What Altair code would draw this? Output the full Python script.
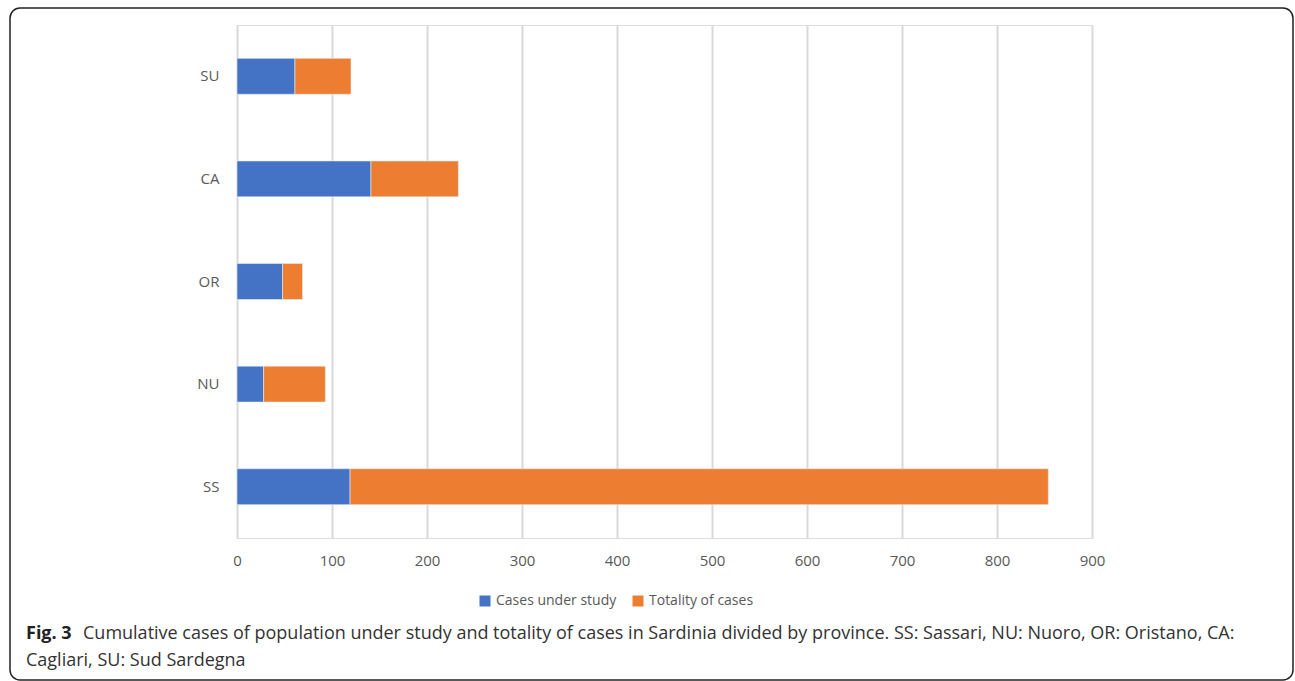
import altair as alt
import pandas as pd

provinces = ["SU", "CA", "OR", "NU", "SS"]
cases_under_study = [61, 141, 48, 28, 119]
totality_extra = [59, 92, 21, 65, 735]
series_names = ["Cases under study", "Totality of cases"]
x_ticks = [0, 100, 200, 300, 400, 500, 600, 700, 800, 900]

rows = []
for p, a, b in zip(provinces, cases_under_study, totality_extra):
    rows.append({"province": p, "series": series_names[0], "value": a, "ord": 0})
    rows.append({"province": p, "series": series_names[1], "value": b, "ord": 1})
df = pd.DataFrame(rows)

FONT = "Open Sans"
W, H = 855, 513

bars = alt.Chart(df).mark_bar(stroke="#e8ecf5", strokeWidth=0.6).encode(
    y=alt.Y("province:N", sort=provinces, title=None,
            scale=alt.Scale(paddingInner=0.65, paddingOuter=0.325),
            axis=alt.Axis(domain=False, ticks=False, labelPadding=18, labelFontSize=15,
                          labelColor="#595959", labelFont=FONT, grid=False)),
    x=alt.X("value:Q", stack="zero", title=None,
            scale=alt.Scale(domain=[0, 900], nice=False),
            axis=alt.Axis(values=x_ticks, domain=False, ticks=False, labelPadding=15,
                          labelFontSize=15, labelColor="#595959", labelFont=FONT,
                          labelFlush=False, labelOverlap=False,
                          grid=True, gridColor="#d9d9d9", gridWidth=2)),
    color=alt.Color("series:N", scale=alt.Scale(domain=series_names, range=["#4472C4", "#ED7D31"]),
                    legend=alt.Legend(title=None, orient="none", legendX=241, legendY=569,
                                      direction="horizontal", symbolType="square", symbolSize=121,
                                      symbolStrokeWidth=0, labelFontSize=14, labelFont=FONT,
                                      labelColor="#595959", columnPadding=14, labelOffset=4)),
    order=alt.Order("ord:Q"),
)

border = alt.Chart(pd.DataFrame({"k": [0]})).mark_rect(
    fill=None, stroke="#222222", strokeWidth=1.5, cornerRadius=10
).encode(x=alt.value(-227), x2=alt.value(1056), y=alt.value(-17), y2=alt.value(655))

cap_df = pd.DataFrame({"k": [0]})
fig_lbl = alt.Chart(cap_df).mark_text(
    text="Fig. 3", font=FONT, fontSize=18, fontWeight="bold", color="#222222",
    align="left", baseline="middle"
).encode(x=alt.value(-211), y=alt.value(609))
cap1 = alt.Chart(cap_df).mark_text(
    text="Cumulative cases of population under study and totality of cases in Sardinia divided by province. SS: Sassari, NU: Nuoro, OR: Oristano, CA:",
    font=FONT, fontSize=18, color="#333333", align="left", baseline="middle"
).encode(x=alt.value(-154), y=alt.value(609))
cap2 = alt.Chart(cap_df).mark_text(
    text="Cagliari, SU: Sud Sardegna",
    font=FONT, fontSize=18, color="#333333", align="left", baseline="middle"
).encode(x=alt.value(-211), y=alt.value(636))

chart = alt.layer(border, bars, fig_lbl, cap1, cap2).properties(
    width=W, height=H,
    autosize=alt.AutoSizeParams(type="none"),
    padding={"left": 237, "top": 25, "right": 203, "bottom": 143},
).configure_view(stroke=None).configure(font=FONT)

chart.save("out.html", embed_options={"renderer": "svg", "actions": False})
